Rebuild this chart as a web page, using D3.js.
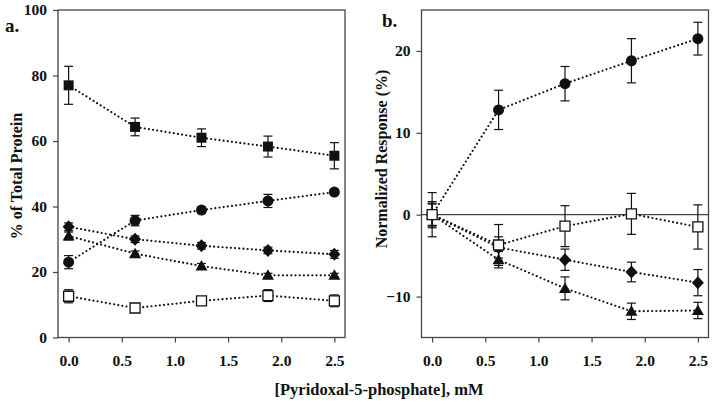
<!DOCTYPE html>
<html><head><meta charset="utf-8">
<script src="https://cdn.jsdelivr.net/npm/d3@7"></script>
<style>
body{margin:0;background:#fff;}
svg{display:block;}
text{font-family:"Liberation Serif","Times New Roman",serif;font-weight:bold;fill:#111;}
</style></head>
<body>
<svg id="c" width="714" height="404"></svg>
<script>
// ---- data ----
const xVals = [0, 0.625, 1.25, 1.875, 2.5];
const xTicks = [0, 0.5, 1.0, 1.5, 2.0, 2.5];

// panel a: % of total protein
const aSquare = [77, 64.3, 61, 58.3, 55.5];
const aSquareErr = [5.8, 2.7, 2.7, 3.2, 4.0];
const aCircle = [23, 35.7, 38.9, 41.7, 44.4];
const aCircleErr = [2.0, 1.6, 1.0, 2.0, 0.8];
const aDiamond = [33.8, 30.0, 28.0, 26.6, 25.4];
const aDiamondErr = [1.2, 1.0, 1.0, 1.0, 1.2];
const aTriangle = [31.0, 25.6, 21.8, 19.0, 19.0];
const aTriangleErr = [1.2, 0.8, 0.8, 0.6, 0.6];
const aOpen = [12.6, 9.0, 11.2, 12.8, 11.2];
const aOpenErr = [2.0, 1.3, 0.8, 1.8, 1.8];
const aTicks = [0, 20, 40, 60, 80, 100];

// panel b: normalized response (%)
const bCircle = [0, 12.8, 16.0, 18.8, 21.5];
const bCircleErr = [1.3, 2.4, 2.1, 2.7, 2.0];
const bOpen = [0, -3.7, -1.4, 0.1, -1.5];
const bOpenErr = [2.7, 2.5, 2.5, 2.5, 2.7];
const bDiamond = [0, -4.0, -5.5, -7.0, -8.3];
const bDiamondErr = [1.6, 1.3, 1.3, 1.2, 1.6];
const bTriangle = [0, -5.5, -9.0, -11.8, -11.7];
const bTriangleErr = [1.4, 1.0, 1.4, 1.0, 1.0];
const bTicks = [-10, 0, 10, 20];

const svg = d3.select("#c");
const ink = "#111";
const frame = "#444";

function panel(cfg){
  const x = d3.scaleLinear().domain([-0.1, 2.6]).range([cfg.x0, cfg.x1]);
  const y = d3.scaleLinear().domain(cfg.yDomain).range([cfg.y1, cfg.y0]);
  const g = svg.append("g");

  // axes
  const xa = g.append("g").attr("transform", `translate(0,${cfg.y1})`)
    .call(d3.axisBottom(x).tickValues(xTicks).tickFormat(d3.format(".1f")).tickSize(5).tickSizeOuter(0).tickPadding(12));
  const ya = g.append("g").attr("transform", `translate(${cfg.x0},0)`)
    .call(d3.axisLeft(y).tickValues(cfg.yTicks).tickFormat(d3.format("d")).tickSize(5).tickSizeOuter(0).tickPadding(6));
  [xa, ya].forEach(a => {
    a.select(".domain").remove();
    a.selectAll(".tick line").attr("stroke", frame).attr("stroke-width", 1.2);
    a.selectAll(".tick text").style("font-size", "15.5px").attr("fill", ink);
  });

  if (cfg.zeroLine) {
    g.append("line").attr("x1", cfg.x0).attr("x2", cfg.x1)
      .attr("y1", y(0)).attr("y2", y(0))
      .attr("stroke", frame).attr("stroke-width", 1.3);
  }

  // frame
  g.append("rect").attr("x", cfg.x0).attr("y", cfg.y0)
    .attr("width", cfg.x1 - cfg.x0).attr("height", cfg.y1 - cfg.y0)
    .attr("fill", "none").attr("stroke", frame).attr("stroke-width", 1.3);

  const line = d3.line().x((d,i) => x(xVals[i])).y(d => y(d));
  // dotted lines
  cfg.series.forEach(s => {
    g.append("path").datum(s.v).attr("d", line)
      .attr("fill", "none").attr("stroke", ink).attr("stroke-width", 2.2)
      .attr("stroke-linecap", "round").attr("stroke-dasharray", "0,4.2");
  });
  // error bars
  cfg.series.forEach(s => {
    s.v.forEach((v, i) => {
      const cx = x(xVals[i]);
      const e = s.e[i];
      const yt = y(v + e), yb = y(v - e);
      g.append("line").attr("x1", cx).attr("x2", cx).attr("y1", yt).attr("y2", yb)
        .attr("stroke", ink).attr("stroke-width", 1.2);
      [yt, yb].forEach(yy => g.append("line").attr("x1", cx - 4.5).attr("x2", cx + 4.5)
        .attr("y1", yy).attr("y2", yy).attr("stroke", ink).attr("stroke-width", 1.2));
    });
  });
  // markers
  cfg.series.forEach(s => {
    s.v.forEach((v, i) => {
      const cx = x(xVals[i]), cy = y(v);
      const m = g.append("path").attr("transform", `translate(${cx},${cy})`);
      if (s.shape === "square") m.attr("d", d3.symbol(d3.symbolSquare, 100)()).attr("fill", ink);
      else if (s.shape === "circle") m.attr("d", d3.symbol(d3.symbolCircle, 95)()).attr("fill", ink);
      else if (s.shape === "diamond") m.attr("d", "M0,-6.5L6,0L0,6.5L-6,0Z").attr("fill", ink);
      else if (s.shape === "triangle") m.attr("d", "M0,-6L6,4.5L-6,4.5Z").attr("fill", ink);
      else if (s.shape === "open") m.attr("d", d3.symbol(d3.symbolSquare, 100)()).attr("fill", "#fff").attr("stroke", ink).attr("stroke-width", 1.3);
    });
  });

  // y title
  g.append("text").attr("transform", `translate(${cfg.titleX},${cfg.titleY}) rotate(-90)`)
    .attr("text-anchor", "middle").attr("dominant-baseline", "central")
    .style("font-size", "16px").text(cfg.title);
  // panel label
  g.append("text").attr("x", cfg.labX).attr("y", cfg.labY)
    .style("font-size", "19px").text(cfg.label);
}

panel({
  x0: 58, x1: 345, y0: 10, y1: 337.5,
  yDomain: [0, 100], yTicks: aTicks,
  title: "% of Total Protein", titleX: 16, titleY: 176,
  label: "a.", labX: 5, labY: 32,
  series: [
    {v: aSquare, e: aSquareErr, shape: "square"},
    {v: aCircle, e: aCircleErr, shape: "circle"},
    {v: aDiamond, e: aDiamondErr, shape: "diamond"},
    {v: aTriangle, e: aTriangleErr, shape: "triangle"},
    {v: aOpen, e: aOpenErr, shape: "open"}
  ]
});

panel({
  x0: 421.5, x1: 708.5, y0: 10, y1: 337.5,
  yDomain: [-15, 25], yTicks: bTicks, zeroLine: true,
  title: "Normalized Response (%)", titleX: 381, titleY: 159,
  label: "b.", labX: 382, labY: 27,
  series: [
    {v: bCircle, e: bCircleErr, shape: "circle"},
    {v: bDiamond, e: bDiamondErr, shape: "diamond"},
    {v: bTriangle, e: bTriangleErr, shape: "triangle"},
    {v: bOpen, e: bOpenErr, shape: "open"}
  ]
});

svg.append("text").attr("x", 379).attr("y", 395).attr("text-anchor", "middle")
  .style("font-size", "16.5px").text("[Pyridoxal-5-phosphate], mM");
</script>
</body></html>
